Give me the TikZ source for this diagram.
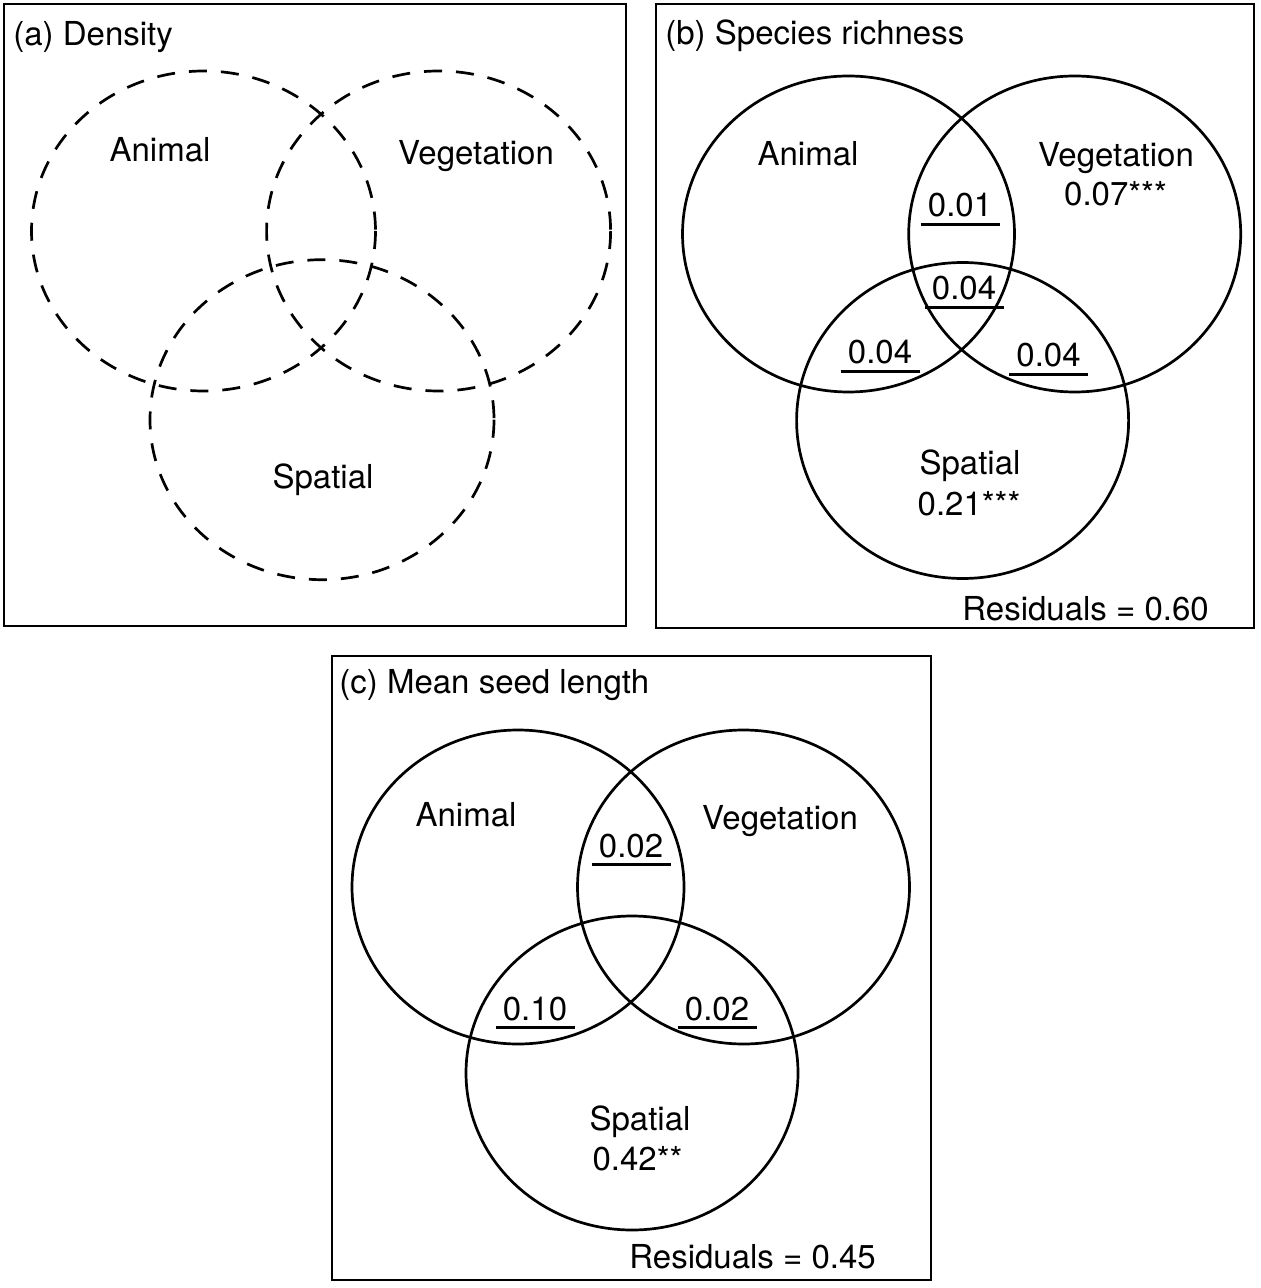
\documentclass[tikz,border=0pt]{standalone}
\usepackage{fontspec}
\setmainfont{TeX Gyre Heros}
\usepackage{tikz}
\usetikzlibrary{calc}
\tikzset{
  panel/.style={draw=black, line width=1.35pt},
  ring/.style={draw=black, line width=1.35pt},
  dring/.style={ring, dash pattern=on 9pt off 7pt},
  uline/.style={draw=black, line width=1.35pt},
  lab/.style={font=\fontsize{16.5}{19}\selectfont, inner sep=0pt, anchor=base},
  ttl/.style={lab, anchor=base west},
}

\begin{document}
\begin{tikzpicture}[x=0.5pt, y=-0.5pt]
  \useasboundingbox (0,0) rectangle (1260,1288);
  % panels
  \draw[panel] (4,4) rectangle (626,626);
  \draw[panel] (656,4) rectangle (1254,628);
  \draw[panel] (332,656) rectangle (931,1280);
  \node[ttl] (ta) at (13,46) {(a) Density};
  \node[ttl] (tb) at (665,45) {(b) Species richness};
  \node[ttl] (tc) at (339,693) {(c) Mean seed length};
  % (a)
  \coordinate (aA) at (203.5,231);
  \coordinate (aV) at (438.6,231);
  \coordinate (aS) at (322,419.7);
  \foreach \c in {aA,aV,aS}
    \draw[dring] (\c) ellipse [x radius=172, y radius=160];
  \node[lab] (aAni) at (160,162) {Animal};
  \node[lab] (aVeg) at (476,165) {Vegetation};
  \node[lab] (aSpa) at (323,488) {Spatial};
  % (b)
  \coordinate (bA) at (848.5,234);
  \coordinate (bV) at (1074.7,234);
  \coordinate (bS) at (962.6,420.5);
  \foreach \c in {bA,bV,bS}
    \draw[ring] (\c) ellipse [x radius=166, y radius=158];
  \node[lab] (bAni) at (808,166) {Animal};
  \node[lab] (bVeg) at (1116,167) {Vegetation};
  \node[lab] (bVegV) at (1115.5,206) {0.07***};
  \node[lab] (bSpa) at (970,474.5) {Spatial};
  \node[lab] (bSpaV) at (969,515.5) {0.21***};
  \node[ttl] (bRes) at (962,620) {Residuals = 0.60};
  % (c)
  \coordinate (cA) at (518,887);
  \coordinate (cV) at (743.5,887);
  \coordinate (cS) at (632,1073);
  \foreach \c in {cA,cV,cS}
    \draw[ring] (\c) ellipse [x radius=166, y radius=157];
  \node[lab] (cAni) at (466,826) {Animal};
  \node[lab] (cVeg) at (780,829) {Vegetation};
  \node[lab] (cSpa) at (640,1130) {Spatial};
  \node[lab] (cSpaV) at (637.5,1170) {0.42**};
  \node[ttl] (cRes) at (629,1268) {Residuals = 0.45};
  % shared fractions, underlined
  \foreach \n/\x/\y/\t in {b01/960/217/0.01, b04m/964/300/0.04, b04l/880/364/0.04,
      b04r/1048.5/367/0.04, c02t/631/857/0.02, c10/535/1020/0.10, c02r/717/1020/0.02}{
    \node[lab] (\n) at (\x,\y) {\t};
    \draw[uline] ([shift={(-7,6.5)}]\n.south west) -- ([shift={(7,6.5)}]\n.south east);
  }
\end{tikzpicture}
\end{document}
